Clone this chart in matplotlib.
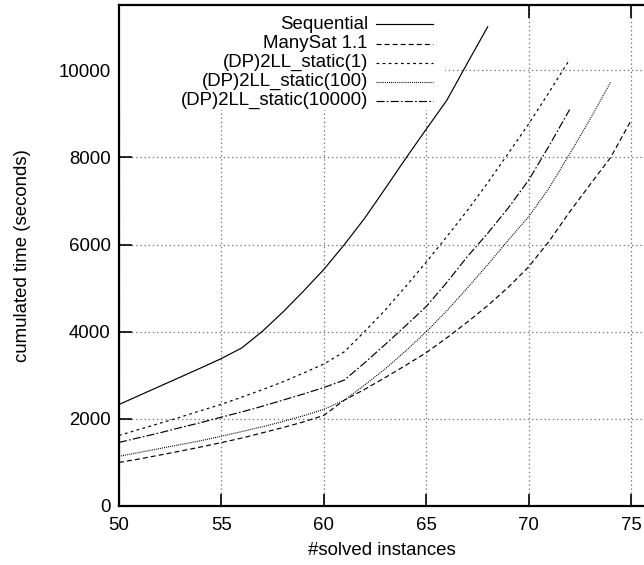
import matplotlib
matplotlib.use("Agg")
import matplotlib.pyplot as plt
from matplotlib.patches import Rectangle

plt.rcParams["font.family"] = ["Liberation Sans", "DejaVu Sans"]
plt.rcParams["lines.scale_dashes"] = False

# cumulated time (seconds) by number of solved instances
seq_x = list(range(50, 69))
seq_y = [2330, 2540, 2750, 2960, 3170, 3385, 3630, 4010, 4450, 4930, 5430,
         6000, 6610, 7290, 7980, 8650, 9310, 10160, 11000]

manysat_x = list(range(50, 76))
manysat_y = [1000, 1080, 1170, 1260, 1355, 1456, 1560, 1680, 1800, 1930, 2080,
             2430, 2680, 2950, 3230, 3520, 3860, 4220, 4600, 5020, 5490,
             6080, 6750, 7380, 8000, 8850]

static1_x = list(range(50, 73))
static1_y = [1620, 1760, 1900, 2040, 2190, 2335, 2500, 2670, 2850, 3050, 3260,
             3540, 4010, 4500, 5040, 5600, 6180, 6780, 7420, 8090, 8770,
             9500, 10250]

static100_x = list(range(50, 75))
static100_y = [1140, 1230, 1320, 1410, 1500, 1600, 1710, 1820, 1940, 2070, 2220,
               2430, 2780, 3150, 3560, 4000, 4480, 5000, 5540, 6100, 6640,
               7300, 8080, 8880, 9730]

static10000_x = list(range(50, 73))
static10000_y = [1460, 1570, 1680, 1800, 1915, 2040, 2160, 2290, 2430, 2570, 2720,
                 2890, 3290, 3710, 4140, 4580, 5130, 5720, 6260, 6840, 7480,
                 8270, 9100]

labels = ["Sequential", "ManySat 1.1", "(DP)2LL_static(1)",
          "(DP)2LL_static(100)", "(DP)2LL_static(10000)"]

x_ticks = [50, 55, 60, 65, 70, 75]
y_ticks = [0, 2000, 4000, 6000, 8000, 10000]

series = [
    (seq_x, seq_y, "-"),
    (manysat_x, manysat_y, (0, (3.6, 2.2))),
    (static1_x, static1_y, (0, (2.0, 2.4))),
    (static100_x, static100_y, (0, (0.7, 0.8))),
    (static10000_x, static10000_y, (0, (5.8, 1.6, 1.2, 1.6))),
]

fig = plt.figure(figsize=(6.44, 5.65), dpi=100)
ax = fig.add_axes([119 / 644, 1 - 506 / 565, 525 / 644, 501 / 565])

ax.set_xlim(50, 75.63)
ax.set_ylim(0, 11500)
ax.set_xticks(x_ticks)
ax.set_yticks(y_ticks)

fs = 13.4
ax.tick_params(direction="in", length=9, width=1.2, labelsize=fs,
               top=True, right=False, pad=6)
ax.tick_params(axis="x", pad=8)
for side in ["left", "bottom", "top"]:
    ax.spines[side].set_linewidth(1.6)
ax.spines["right"].set_visible(False)

ax.grid(True, color="#777777", linestyle=(0, (1, 2)), linewidth=0.9)
ax.set_axisbelow(True)

# legend area hides the grid like in gnuplot
ax.add_patch(Rectangle((0, 0.79), 0.62, 0.21, transform=ax.transAxes,
                       facecolor="white", edgecolor="none", zorder=1.5))

for (xs, ys, ls), lab in zip(series, labels):
    ax.plot(xs, ys, color="black", linestyle=ls, linewidth=0.85, zorder=3)

# gnuplot style key: right aligned text, sample line on the right
key_rows = [0.962, 0.923, 0.885, 0.847, 0.809]
for (xs, ys, ls), lab, ky in zip(series, labels, key_rows):
    ax.text(0.474, ky, lab, transform=ax.transAxes, ha="right", va="center",
            fontsize=fs, zorder=4)
    ax.plot([0.49, 0.598], [ky, ky], transform=ax.transAxes, color="black",
            linestyle=ls, linewidth=0.85, zorder=4)

ax.set_xlabel("#solved instances", fontsize=fs, labelpad=6)
ax.set_ylabel("cumulated time (seconds)", fontsize=fs)
ax.yaxis.set_label_coords(-0.167, 0.5)

fig.savefig("out.png", dpi=100)
